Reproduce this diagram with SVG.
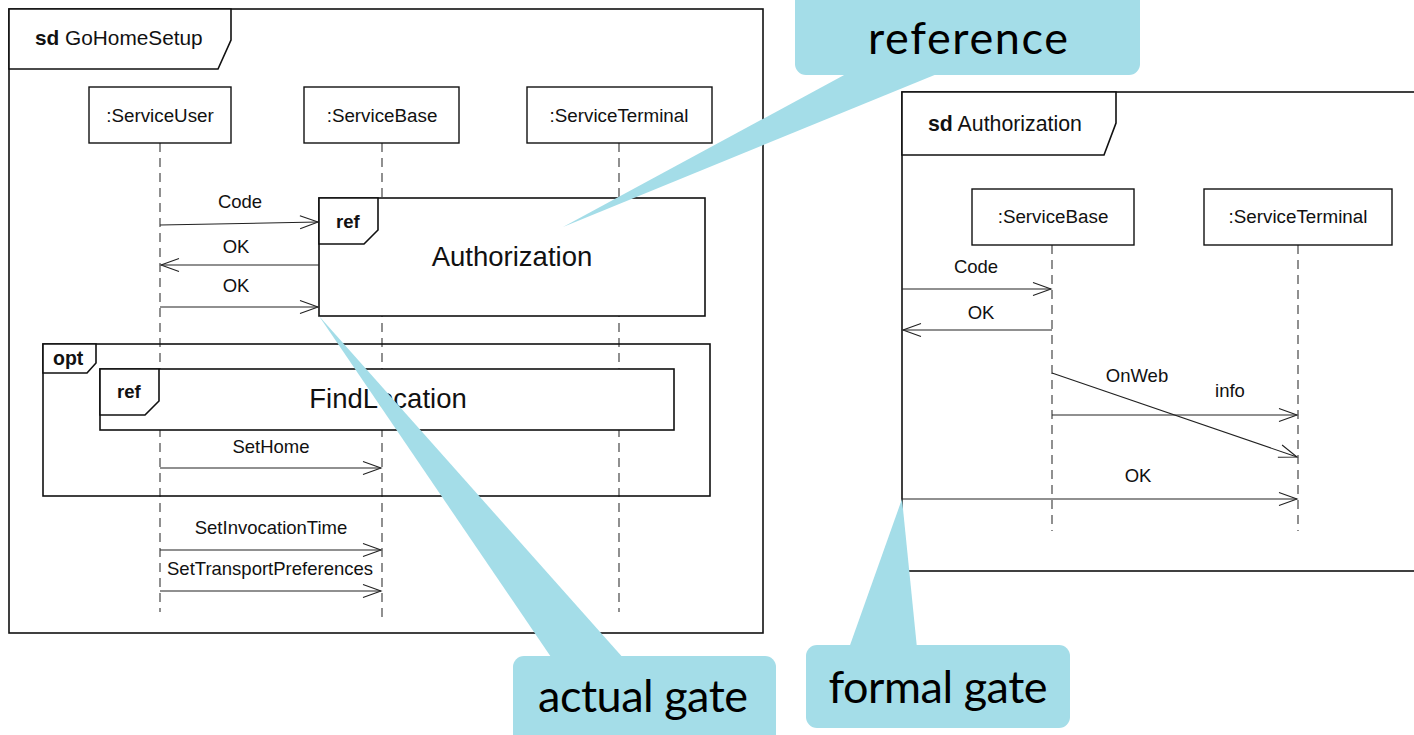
<svg xmlns="http://www.w3.org/2000/svg" width="1414" height="735" viewBox="0 0 1414 735">
  <style>
    .frame { fill: none; stroke: #111; stroke-width: 1.6; }
    .tab { fill: #fff; stroke: #111; stroke-width: 1.6; }
    .box { fill: #fff; stroke: #111; stroke-width: 1.4; }
    .refbox { fill: #fff; stroke: #111; stroke-width: 1.6; }
    .life { stroke: #555; stroke-width: 1.3; stroke-dasharray: 9 6; fill: none; }
    .msg { stroke: #222; stroke-width: 1.1; fill: none; marker-end: url(#arr); }
    .t { font-family: "Liberation Sans", Arial, sans-serif; fill: #111; }
    .lbl { font-size: 18.8px; text-anchor: middle; }
    .mlbl { font-size: 18.5px; text-anchor: middle; }
    .kw { font-weight: bold; }
    .big { font-size: 27.5px; text-anchor: middle; }
    .callout { fill: #a4dde8; }
    .ct { font-family: Lato, "Open Sans", sans-serif; font-size: 45px; fill: #000; text-anchor: middle; }
  </style>
  <defs>
    <marker id="arr" viewBox="-20 -9 22 18" refX="0" refY="0" markerWidth="22" markerHeight="18" markerUnits="userSpaceOnUse" orient="auto">
      <path d="M-18,-6.5 L0,0 L-18,6.5" fill="none" stroke="#222" stroke-width="1.1"/>
    </marker>
  </defs>

  <rect width="1414" height="735" fill="#fff"/>

  <!-- sd GoHomeSetup -->
  <g id="frame-gohomesetup">
    <rect class="frame" x="9" y="9" width="754" height="624"/>
    <path class="tab" d="M9,9 H231 V40 L218,69 H9 Z"/>
    <text class="t" x="35" y="45" font-size="20.8px"><tspan class="kw">sd</tspan> GoHomeSetup</text>
  </g>

  <!-- lifelines of GoHomeSetup -->
  <g id="lifelines-left">
    <line class="life" x1="160" y1="143" x2="160" y2="612"/>
    <line class="life" x1="382" y1="143" x2="382" y2="619"/>
    <line class="life" x1="619" y1="143" x2="619" y2="612"/>
  </g>
  <g id="ll-serviceuser">
    <rect class="box" x="89" y="87" width="142" height="56"/>
    <text class="t lbl" x="160" y="122">:ServiceUser</text>
  </g>
  <g id="ll-servicebase">
    <rect class="box" x="304" y="87" width="155" height="56"/>
    <text class="t lbl" x="382" y="122">:ServiceBase</text>
  </g>
  <g id="ll-serviceterminal">
    <rect class="box" x="527" y="87" width="185" height="56"/>
    <text class="t lbl" x="619" y="122">:ServiceTerminal</text>
  </g>

  <!-- interaction use: Authorization -->
  <g id="ref-authorization">
    <rect class="refbox" x="319" y="198" width="386" height="118"/>
    <path class="tab" d="M319,198 H378 V230 L364,244 H319 Z"/>
    <text class="t kw" x="336" y="228" font-size="18.5px">ref</text>
    <text class="t big" x="512" y="266">Authorization</text>
  </g>

  <!-- opt fragment -->
  <g id="opt-fragment">
    <rect class="frame" x="43" y="344" width="667" height="152"/>
    <path class="tab" d="M43,344 H96 V363 L87,373 H43 Z"/>
    <text class="t kw" x="53" y="365" font-size="19.5px">opt</text>
  </g>

  <!-- interaction use: FindLocation -->
  <g id="ref-findlocation">
    <rect class="refbox" x="100" y="369" width="574" height="61"/>
    <path class="tab" d="M100,369 H159 V401 L145,415 H100 Z"/>
    <text class="t kw" x="117" y="398" font-size="18.5px">ref</text>
    <text class="t big" x="388" y="408">FindLocation</text>
  </g>

  <!-- messages of GoHomeSetup -->
  <g id="messages-left">
    <line class="msg" x1="160" y1="225" x2="318" y2="222"/>
    <text class="t mlbl" x="240" y="208">Code</text>
    <line class="msg" x1="319" y1="265" x2="161" y2="265"/>
    <text class="t mlbl" x="236" y="253">OK</text>
    <line class="msg" x1="160" y1="307" x2="318" y2="307"/>
    <text class="t mlbl" x="236" y="292">OK</text>
    <line class="msg" x1="160" y1="468" x2="381" y2="468"/>
    <text class="t mlbl" x="271" y="453">SetHome</text>
    <line class="msg" x1="160" y1="550" x2="381" y2="550"/>
    <text class="t mlbl" x="271" y="534">SetInvocationTime</text>
    <line class="msg" x1="160" y1="591" x2="381" y2="591"/>
    <text class="t mlbl" x="270" y="575">SetTransportPreferences</text>
  </g>

  <!-- sd Authorization -->
  <g id="frame-authorization">
    <rect class="frame" x="902" y="92" width="530" height="479"/>
    <path class="tab" d="M902,92 H1116 V123 L1104,155 H902 Z"/>
    <text class="t" x="928" y="131" font-size="21.3px"><tspan class="kw">sd</tspan> Authorization</text>
  </g>

  <g id="lifelines-right">
    <line class="life" x1="1052" y1="245" x2="1052" y2="531"/>
    <line class="life" x1="1298" y1="245" x2="1298" y2="531"/>
  </g>
  <g id="ll-servicebase-2">
    <rect class="box" x="972" y="189" width="162" height="56"/>
    <text class="t lbl" x="1053" y="223">:ServiceBase</text>
  </g>
  <g id="ll-serviceterminal-2">
    <rect class="box" x="1204" y="189" width="188" height="56"/>
    <text class="t lbl" x="1298" y="223">:ServiceTerminal</text>
  </g>

  <g id="messages-right">
    <line class="msg" x1="902" y1="289" x2="1051" y2="289"/>
    <text class="t mlbl" x="976" y="273">Code</text>
    <line class="msg" x1="1052" y1="330" x2="903" y2="330"/>
    <text class="t mlbl" x="981" y="319">OK</text>
    <line class="msg" x1="1052" y1="373" x2="1297" y2="457"/>
    <text class="t mlbl" x="1137" y="382">OnWeb</text>
    <line class="msg" x1="1052" y1="415" x2="1297" y2="415"/>
    <text class="t mlbl" x="1230" y="397">info</text>
    <line class="msg" x1="902" y1="499" x2="1297" y2="499"/>
    <text class="t mlbl" x="1138" y="482">OK</text>
  </g>

  <!-- callouts -->
  <g id="callout-reference">
    <polygon class="callout" points="846,74 563,227 937,74"/>
    <rect class="callout" x="795" y="-10" width="345" height="85" rx="11"/>
    <text class="ct" x="968" y="54" textLength="200">reference</text>
  </g>
  <g id="callout-actual-gate">
    <polygon class="callout" points="319,316 553,660 625,660"/>
    <rect class="callout" x="513" y="656" width="263" height="95" rx="11"/>
    <text class="ct" x="643" y="712" textLength="210">actual gate</text>
  </g>
  <g id="callout-formal-gate">
    <polygon class="callout" points="902,499 849,648 917,648"/>
    <rect class="callout" x="806" y="645" width="264" height="83" rx="11"/>
    <text class="ct" x="938" y="703" textLength="219">formal gate</text>
  </g>
</svg>
